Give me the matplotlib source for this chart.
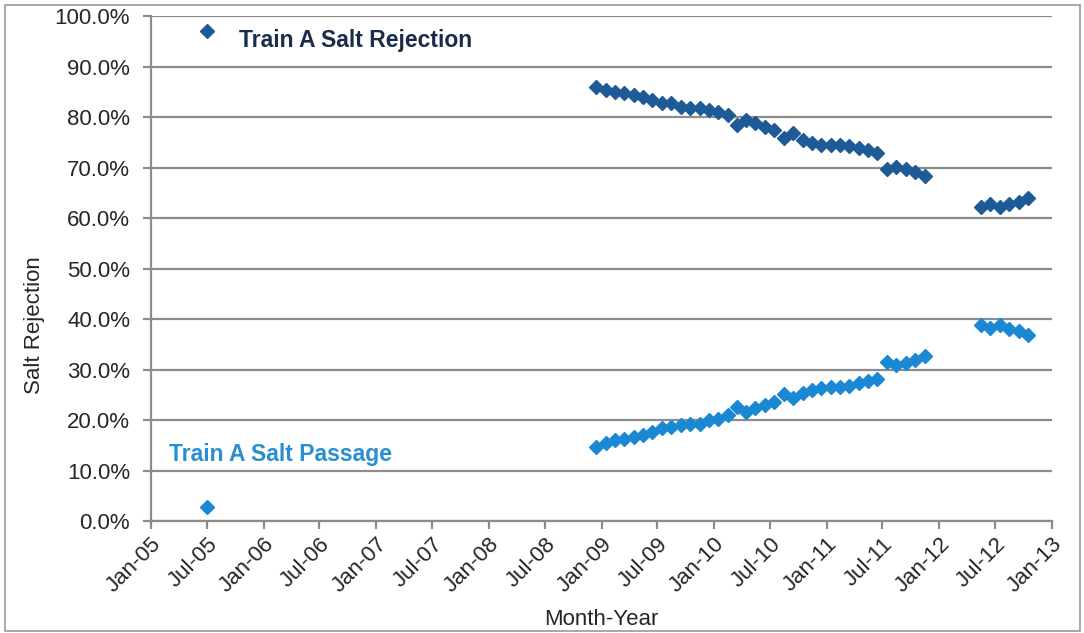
import numpy as np
import pandas as pd
import matplotlib
matplotlib.use("Agg")
import matplotlib.pyplot as plt
import matplotlib.dates as mdates
from matplotlib.ticker import PercentFormatter, MultipleLocator
from matplotlib.patches import Rectangle

plt.rcParams['font.family'] = ['Liberation Sans', 'DejaVu Sans']

# %% data (percent), monthly readings
early_month = ["2005-07-01"]
early_rej = [97.0]
early_pas = [2.8]

seg1_start, seg1_n = "2008-12-15", 31
seg1_rej = [85.9, 85.3, 85.0, 84.7, 84.4, 84.0, 83.4, 82.7, 82.7, 82.0,
            81.7, 81.7, 81.3, 80.9, 80.4, 78.5, 79.4, 78.8, 78.0, 77.4,
            75.8, 76.8, 75.4, 74.8, 74.5, 74.5, 74.5, 74.3, 73.8, 73.5, 72.8]
seg1_pas = [14.6, 15.4, 16.0, 16.2, 16.7, 17.0, 17.7, 18.4, 18.6, 19.1,
            19.3, 19.3, 20.0, 20.3, 21.0, 22.5, 21.6, 22.3, 23.0, 23.6,
            25.2, 24.3, 25.4, 25.9, 26.3, 26.5, 26.5, 26.8, 27.3, 27.7, 28.1]

seg2_start, seg2_n = "2011-07-15", 5
seg2_rej = [69.7, 70.2, 69.8, 69.1, 68.4]
seg2_pas = [31.4, 30.8, 31.2, 31.9, 32.6]

seg3_start, seg3_n = "2012-05-15", 6
seg3_rej = [62.1, 62.8, 62.1, 62.8, 63.2, 64.0]
seg3_pas = [38.8, 38.2, 38.8, 38.1, 37.6, 36.9]


def months(start, n):
    d = pd.Timestamp(start)
    return [d + pd.DateOffset(months=k) for k in range(n)]


dates = ([pd.Timestamp(m) for m in early_month] + months(seg1_start, seg1_n)
         + months(seg2_start, seg2_n) + months(seg3_start, seg3_n))
rej = early_rej + seg1_rej + seg2_rej + seg3_rej
pas = early_pas + seg1_pas + seg2_pas + seg3_pas

# %% plot
fig = plt.figure(figsize=(10.84, 6.33), dpi=100)
fig.patches.append(Rectangle((0.005, 0.003), 0.991, 0.989, transform=fig.transFigure,
                             fill=False, edgecolor='#9a9a9a', linewidth=1.2))
ax = fig.add_axes([0.1393, 0.1769, 0.8312, 0.7978])

ax.plot(dates, rej, 'D', color='#1d5a96', ms=7, mec='#1d5a96', zorder=3)
ax.plot(dates, pas, 'D', color='#1a88d2', ms=7, mec='#1a88d2', zorder=3)

ax.set_ylim(0, 100)
ax.set_xlim(pd.Timestamp("2005-01-01"), pd.Timestamp("2013-01-01"))
ax.yaxis.set_major_locator(MultipleLocator(10))
ax.yaxis.set_major_formatter(PercentFormatter(100, decimals=1))
ax.xaxis.set_major_locator(mdates.MonthLocator(bymonth=[1, 7]))
ax.xaxis.set_major_formatter(mdates.DateFormatter('%b-%y'))

ax.grid(axis='y', color='#8c8c8c', linewidth=1.6)
ax.set_axisbelow(True)
for s in ['top', 'right']:
    ax.spines[s].set_visible(False)
for s in ['left', 'bottom']:
    ax.spines[s].set_color('#8c8c8c')
    ax.spines[s].set_linewidth(1.6)
ax.tick_params(axis='both', colors='#8c8c8c', length=6, width=1.6,
               labelcolor='#262626', labelsize=16)
ax.tick_params(axis='y', pad=9)
ax.tick_params(axis='x', pad=3)
plt.setp(ax.get_xticklabels(), rotation=45, ha='right', rotation_mode='anchor')

ax.set_ylabel('Salt Rejection', fontsize=16, color='#262626')
ax.yaxis.set_label_coords(-0.118, 0.388)
ax.set_xlabel('Month-Year', fontsize=16, color='#262626')
ax.xaxis.set_label_coords(0.5, -0.174)

ax.text(pd.Timestamp("2005-10-15"), 95.2, 'Train A Salt Rejection', fontsize=16.5,
        fontweight='bold', color='#1b2b4a', va='center')
ax.text(pd.Timestamp("2005-03-01"), 13.2, 'Train A Salt Passage', fontsize=16.5,
        fontweight='bold', color='#2a8fd0', va='center')

fig.savefig('out.png', dpi=100)
